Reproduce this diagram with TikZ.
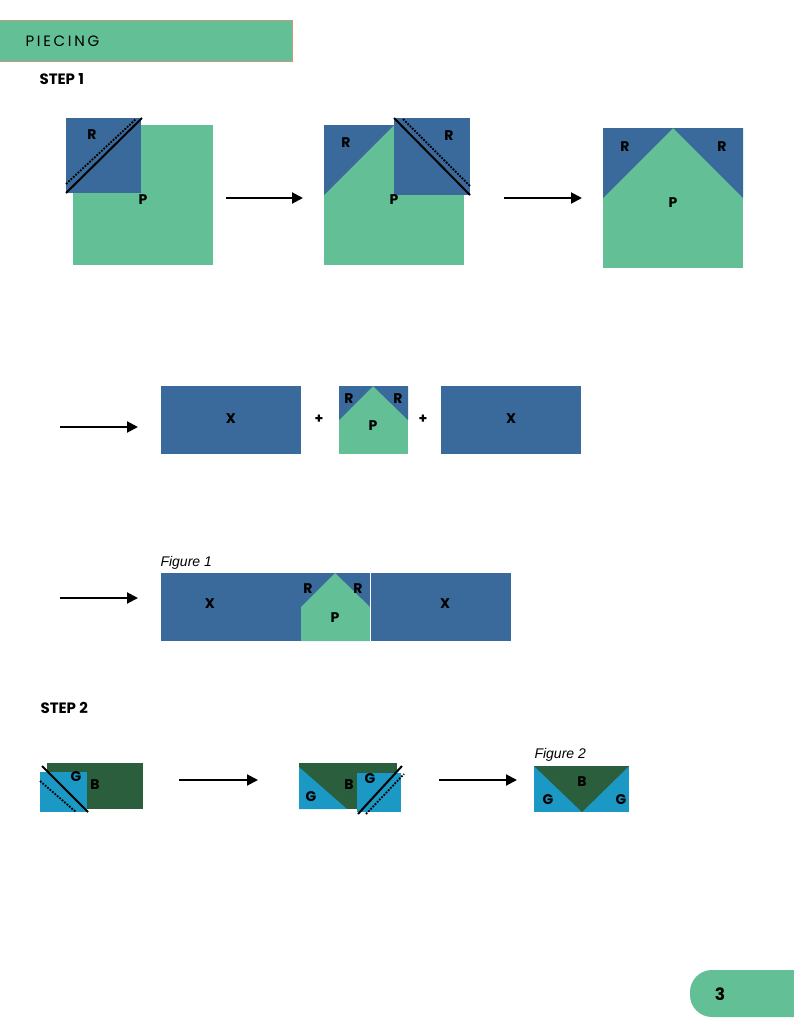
\documentclass[tikz,border=0pt]{standalone}
\usepackage{fontspec}
\setmainfont{Poppins}
\newfontfamily\figfont{Liberation Sans}
\usetikzlibrary{arrows.meta}
\definecolor{gr}{HTML}{63BF95}
\definecolor{bl}{HTML}{3A6A9C}
\definecolor{tl}{HTML}{1C98C4}
\definecolor{dg}{HTML}{2A5E3C}
\definecolor{brd}{HTML}{C8967A}
\begin{document}
\begin{tikzpicture}[x=1pt,y=-1pt,
  lab/.style={font=\bfseries\fontsize{14}{14}\selectfont},
  arr/.style={-{Triangle[length=11pt,width=11pt]},line width=2pt},
  cut/.style={line width=2pt},
  dot/.style={line width=1.8pt,dash pattern=on 1.8pt off 1.4pt},
  fig/.style={font=\figfont\itshape\fontsize{14}{14}\selectfont,anchor=west}]
\useasboundingbox (0,0) rectangle (794,1028);
% header
\fill[gr,draw=brd,line width=1pt] (-2,20) rectangle (292,61);
\node[anchor=west,font=\fontsize{15}{15}\selectfont\addfontfeatures{LetterSpace=18}] (hdr) at (22,41) {PIECING};
\node[anchor=west,font=\bfseries\fontsize{15}{15}\selectfont] (s1) at (36,79) {STEP 1};
% fig a
\fill[gr] (73,125) rectangle (213,265);
\fill[bl] (66,118) rectangle (141,193);
\draw[cut] (66,193) -- (142,118);
\draw[dot] (66,184) -- (136,119);
\node[lab] (ra) at (92,135) {R};
\node[lab] (pa) at (143,200) {P};
\coordinate (a1) at (226,198); \coordinate (a2) at (303,198);
\draw[arr] (a1) -- (a2);
% fig b
\fill[gr] (324,125) rectangle (464,265);
\fill[bl] (324,125) -- (394,125) -- (324,195) -- cycle;
\fill[bl] (394,118) rectangle (470,195);
\draw[cut] (394,118) -- (470,195);
\draw[dot] (403,119) -- (470,186);
\node[lab] (rb1) at (346,143) {R};
\node[lab] (rb2) at (449,136) {R};
\node[lab] (pb) at (394,200) {P};
\coordinate (b1) at (504,198); \coordinate (b2) at (582,198);
\draw[arr] (b1) -- (b2);
% fig c
\fill[gr] (603,128) rectangle (743,268);
\fill[bl] (603,128) -- (673,128) -- (603,198) -- cycle;
\fill[bl] (673,128) -- (743,128) -- (743,198) -- cycle;
\node[lab] (rc1) at (625,147) {R};
\node[lab] (rc2) at (722,147) {R};
\node[lab] (pc) at (673,203) {P};
% row 2
\coordinate (c1) at (60,427); \coordinate (c2) at (138,427);
\draw[arr] (c1) -- (c2);
\fill[bl] (161,386) rectangle (301,454);
\node[lab] (x1) at (231,419) {X};
\node[lab] (pl1) at (319,419) {+};
\fill[gr] (339,386) rectangle (408,454);
\fill[bl] (339,386) -- (373,386) -- (339,420) -- cycle;
\fill[bl] (373,386) -- (408,386) -- (408,420) -- cycle;
\node[lab] (r21) at (349,399) {R};
\node[lab] (r22) at (398,399) {R};
\node[lab] (p2) at (373,426) {P};
\node[lab] (pl2) at (423,419) {+};
\fill[bl] (441,386) rectangle (581,454);
\node[lab] (x2) at (511,419) {X};
% row 3
\node[fig] (f1) at (157,563) {Figure 1};
\coordinate (d1) at (60,598); \coordinate (d2) at (138,598);
\draw[arr] (d1) -- (d2);
\fill[bl] (161,573) rectangle (511,641);
\fill[gr] (301,607) -- (335,573) -- (370,607) -- (370,641) -- (301,641) -- cycle;
\draw[white,line width=0.6pt] (370,573) -- (370,641);
\node[lab] (x3) at (210,604) {X};
\node[lab] (r31) at (308,589) {R};
\node[lab] (r32) at (358,589) {R};
\node[lab] (p3) at (335,618) {P};
\node[lab] (x4) at (445,604) {X};
% step 2
\node[anchor=west,font=\bfseries\fontsize{15}{15}\selectfont] (s2) at (37,708) {STEP 2};
\fill[dg] (47,763) rectangle (143,809);
\fill[tl] (40,772) rectangle (87,812);
\draw[cut] (42,766) -- (88,812);
\draw[dot] (40,781) -- (76,812);
\node[lab] (g1) at (76,777) {G};
\node[lab] (b1l) at (95,785) {B};
\coordinate (e1) at (179,780); \coordinate (e2) at (258,780);
\draw[arr] (e1) -- (e2);
\fill[dg] (299,763) rectangle (397,809);
\fill[tl] (299,767) -- (299,809) -- (347,809) -- cycle;
\fill[tl] (357,773) rectangle (401,812);
\draw[cut] (358,814) -- (402,766);
\draw[dot] (366,814) -- (404,774);
\node[lab] (g2) at (311,797) {G};
\node[lab] (b2l) at (349,785) {B};
\node[lab] (g3) at (370,779) {G};
\coordinate (h1) at (439,780); \coordinate (h2) at (517,780);
\draw[arr] (h1) -- (h2);
\node[fig] (f2) at (531,755) {Figure 2};
\fill[tl] (534,766) rectangle (629,812);
\fill[dg] (534,766) -- (629,766) -- (582,812) -- cycle;
\node[lab] (b3l) at (582,782) {B};
\node[lab] (g4) at (548,800) {G};
\node[lab] (g5) at (621,800) {G};
% page number
\fill[gr,rounded corners=22pt] (690,970) rectangle (830,1017);
\node[font=\bfseries\fontsize{17}{17}\selectfont] (pg) at (720,994) {3};
\end{tikzpicture}
\end{document}
